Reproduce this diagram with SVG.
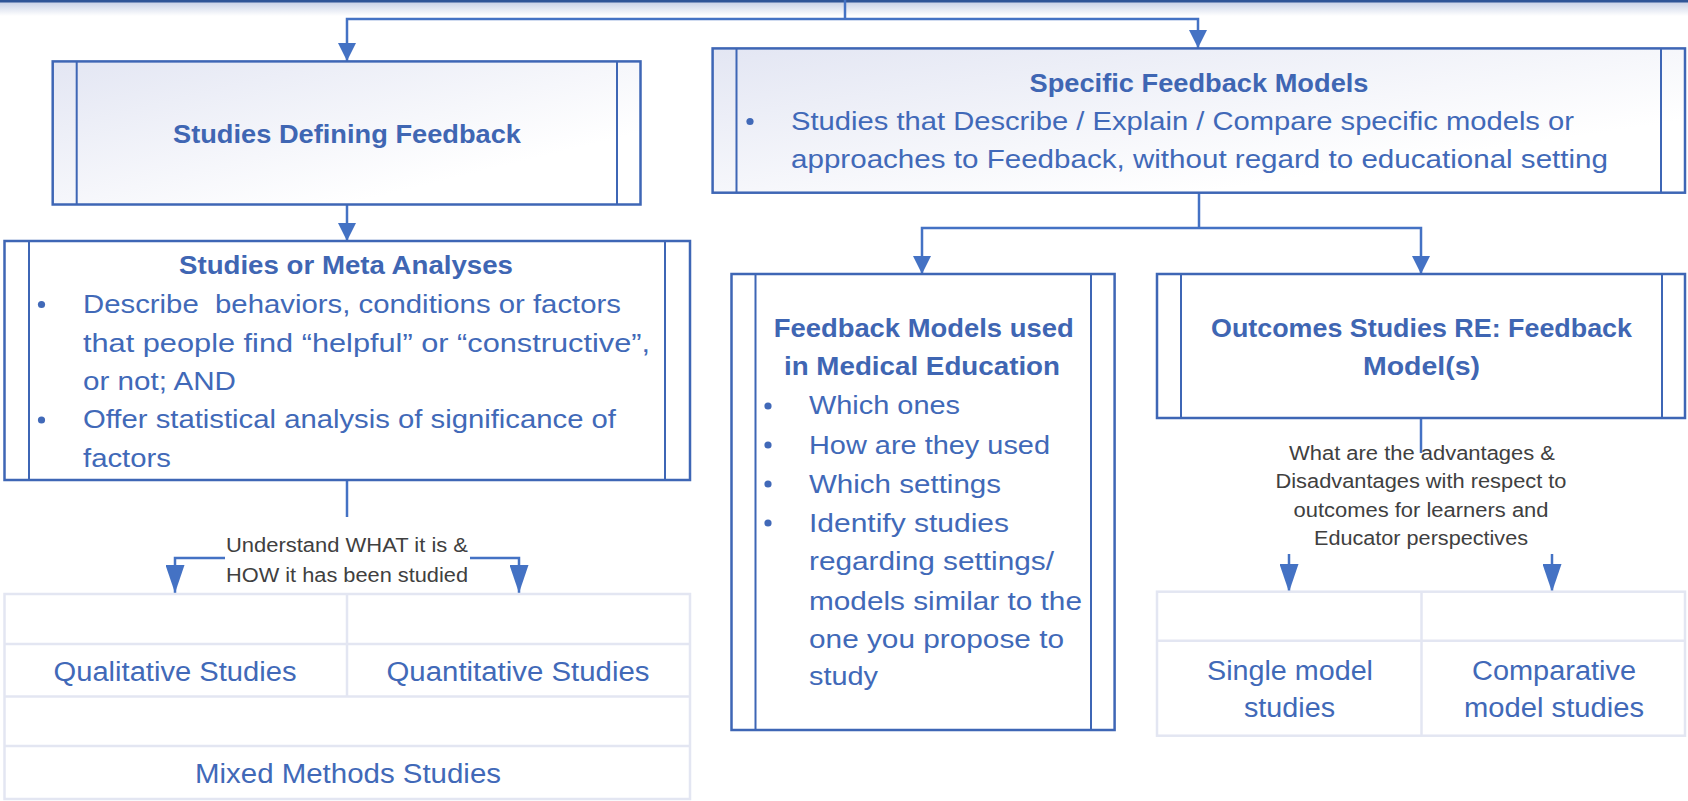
<svg xmlns="http://www.w3.org/2000/svg" width="1688" height="801" viewBox="0 0 1688 801">
<style>
.box{stroke:#3E66B5;stroke-width:2.5;}
.inner{stroke:#3E66B5;stroke-width:2;fill:none;}
.conn{stroke:#4472C4;stroke-width:2.5;fill:none;}
.t{font-family:"Liberation Sans",Arial,sans-serif;font-size:25.5px;fill:#4169B8;}
.b{font-family:"Liberation Sans",Arial,sans-serif;font-size:26px;font-weight:bold;fill:#3F66B3;text-anchor:middle;}
.lbl{font-family:"Liberation Sans",Arial,sans-serif;font-size:20px;fill:#404040;text-anchor:middle;}
.cell{font-family:"Liberation Sans",Arial,sans-serif;font-size:27px;fill:#4169B8;text-anchor:middle;}
.grid{stroke:#E3E6F2;stroke-width:2.5;fill:#FFFFFF;}
.gline{stroke:#E3E6F2;stroke-width:2.5;}
.dot{fill:#4169B8;}
.pre{white-space:pre;}
</style>
<defs>
<linearGradient id="boxGrad" x1="0" y1="0" x2="1" y2="1">
<stop offset="0" stop-color="#E3E6F3"/>
<stop offset="0.75" stop-color="#FFFFFF"/>
</linearGradient>
<linearGradient id="shadow" x1="0" y1="0" x2="0" y2="1">
<stop offset="0" stop-color="#C8D1E6"/>
<stop offset="1" stop-color="#FFFFFF"/>
</linearGradient>
<marker id="arr" markerUnits="userSpaceOnUse" markerWidth="18" markerHeight="18" refX="18" refY="9" orient="auto">
<path d="M0,0 L18,9 L0,18 Z" fill="#4472C4"/>
</marker>
<marker id="arrL" markerUnits="userSpaceOnUse" markerWidth="28" markerHeight="19" refX="28" refY="9.5" orient="auto">
<path d="M0,0 L28,9.5 L0,19 Z" fill="#4472C4"/>
</marker>
</defs>
<rect x="0" y="0" width="1688" height="801" fill="#FFFFFF"/>
<g id="topbar">
<rect x="0" y="2" width="1688" height="14" fill="url(#shadow)"/>
<rect x="0" y="0" width="1688" height="2.5" fill="#2F5597"/>
</g>
<g id="connectors">
<path class="conn" d="M845,0 V19"/>
<path class="conn" d="M845,19 H347 V61" marker-end="url(#arr)"/>
<path class="conn" d="M845,19 H1198 V48" marker-end="url(#arr)"/>
<path class="conn" d="M347,205 V241" marker-end="url(#arr)"/>
<path class="conn" d="M347,481 V517"/>
<path class="conn" d="M225,558 H175 V593" marker-end="url(#arrL)"/>
<path class="conn" d="M470,558 H519 V593" marker-end="url(#arrL)"/>
<path class="conn" d="M1199,193 V228"/>
<path class="conn" d="M1199,228 H922 V274" marker-end="url(#arr)"/>
<path class="conn" d="M1199,228 H1421 V274" marker-end="url(#arr)"/>
<path class="conn" d="M1421,418 V453"/>
<path class="conn" d="M1289,554 V592" marker-end="url(#arrL)"/>
<path class="conn" d="M1552,554 V592" marker-end="url(#arrL)"/>
</g>
<g id="studies-defining">
<rect class="box" x="52.7" y="61.4" width="587.8" height="143.1" fill="url(#boxGrad)"/>
<path class="inner" d="M76.7,61.4 V204.5 M617,61.4 V204.5"/>
<text class="b" x="347" y="143" textLength="348" lengthAdjust="spacingAndGlyphs">Studies Defining Feedback</text>
</g>
<g id="specific-models">
<rect class="box" x="712.6" y="48.4" width="972.4" height="144.3" fill="url(#boxGrad)"/>
<path class="inner" d="M736.5,48.4 V192.7 M1661,48.4 V192.7"/>
<text class="b" x="1199" y="92" textLength="339" lengthAdjust="spacingAndGlyphs">Specific Feedback Models</text>
<circle class="dot" cx="750" cy="121.5" r="3.6"/>
<text class="t" x="791" y="130" textLength="783" lengthAdjust="spacingAndGlyphs">Studies that Describe / Explain / Compare specific models or</text>
<text class="t" x="791" y="168" textLength="817" lengthAdjust="spacingAndGlyphs">approaches to Feedback, without regard to educational setting</text>
</g>
<g id="meta-analyses">
<rect class="box" x="4.5" y="241" width="685.5" height="239" fill="#FFFFFF"/>
<path class="inner" d="M29,241 V480 M665,241 V480"/>
<text class="b" x="346" y="274" textLength="334" lengthAdjust="spacingAndGlyphs">Studies or Meta Analyses</text>
<circle class="dot" cx="41.5" cy="304.5" r="3.6"/>
<circle class="dot" cx="41.5" cy="420" r="3.6"/>
<text class="t pre" x="83" y="313" textLength="538" lengthAdjust="spacingAndGlyphs">Describe  behaviors, conditions or factors</text>
<text class="t" x="83" y="352" textLength="567" lengthAdjust="spacingAndGlyphs">that people find “helpful” or “constructive”,</text>
<text class="t" x="83" y="390" textLength="153" lengthAdjust="spacingAndGlyphs">or not; AND</text>
<text class="t" x="83" y="428" textLength="533" lengthAdjust="spacingAndGlyphs">Offer statistical analysis of significance of</text>
<text class="t" x="83" y="467" textLength="88" lengthAdjust="spacingAndGlyphs">factors</text>
</g>
<g id="label-what-how">
<text class="lbl" x="347" y="552" textLength="242" lengthAdjust="spacingAndGlyphs">Understand WHAT it is &amp;</text>
<text class="lbl" x="347" y="582" textLength="242" lengthAdjust="spacingAndGlyphs">HOW it has been studied</text>
</g>
<g id="methods-table">
<rect class="grid" x="4.5" y="594" width="685.5" height="205"/>
<path class="gline" d="M4.5,644 H690 M4.5,696.5 H690 M4.5,746 H690 M347,594 V696.5"/>
<text class="cell" x="175" y="681" textLength="243" lengthAdjust="spacingAndGlyphs">Qualitative Studies</text>
<text class="cell" x="518" y="681" textLength="263" lengthAdjust="spacingAndGlyphs">Quantitative Studies</text>
<text class="cell" x="348" y="783" textLength="306" lengthAdjust="spacingAndGlyphs">Mixed Methods Studies</text>
</g>
<g id="med-ed-models">
<rect class="box" x="731.5" y="274" width="383.1" height="456" fill="#FFFFFF"/>
<path class="inner" d="M755.5,274 V730 M1091,274 V730"/>
<text class="b" x="923.7" y="337" textLength="300" lengthAdjust="spacingAndGlyphs">Feedback Models used</text>
<text class="b" x="922" y="375" textLength="276" lengthAdjust="spacingAndGlyphs">in Medical Education</text>
<circle class="dot" cx="768" cy="406" r="3.6"/>
<circle class="dot" cx="768" cy="445" r="3.6"/>
<circle class="dot" cx="768" cy="484" r="3.6"/>
<circle class="dot" cx="768" cy="523" r="3.6"/>
<text class="t" x="809" y="414" textLength="151" lengthAdjust="spacingAndGlyphs">Which ones</text>
<text class="t" x="809" y="454" textLength="241" lengthAdjust="spacingAndGlyphs">How are they used</text>
<text class="t" x="809" y="493" textLength="192" lengthAdjust="spacingAndGlyphs">Which settings</text>
<text class="t" x="809" y="532" textLength="200" lengthAdjust="spacingAndGlyphs">Identify studies</text>
<text class="t" x="809" y="570" textLength="245" lengthAdjust="spacingAndGlyphs">regarding settings/</text>
<text class="t" x="809" y="610" textLength="273" lengthAdjust="spacingAndGlyphs">models similar to the</text>
<text class="t" x="809" y="648" textLength="255" lengthAdjust="spacingAndGlyphs">one you propose to</text>
<text class="t" x="809" y="685" textLength="69" lengthAdjust="spacingAndGlyphs">study</text>
</g>
<g id="outcomes-studies">
<rect class="box" x="1157" y="274" width="528" height="144" fill="#FFFFFF"/>
<path class="inner" d="M1181,274 V418 M1662,274 V418"/>
<text class="b" x="1421.5" y="337" textLength="421" lengthAdjust="spacingAndGlyphs">Outcomes Studies RE: Feedback</text>
<text class="b" x="1421.5" y="375" textLength="117" lengthAdjust="spacingAndGlyphs">Model(s)</text>
</g>
<g id="label-advantages">
<text class="lbl" x="1422" y="460" textLength="266" lengthAdjust="spacingAndGlyphs">What are the advantages &amp;</text>
<text class="lbl" x="1421" y="488" textLength="291" lengthAdjust="spacingAndGlyphs">Disadvantages with respect to</text>
<text class="lbl" x="1421" y="517" textLength="255" lengthAdjust="spacingAndGlyphs">outcomes for learners and</text>
<text class="lbl" x="1421" y="545" textLength="214" lengthAdjust="spacingAndGlyphs">Educator perspectives</text>
</g>
<g id="model-table">
<rect class="grid" x="1157" y="591.7" width="528" height="144"/>
<path class="gline" d="M1157,640.7 H1685 M1421.5,591.7 V735.7"/>
<text class="cell" x="1290" y="680" textLength="166" lengthAdjust="spacingAndGlyphs">Single model</text>
<text class="cell" x="1289.5" y="717" textLength="91" lengthAdjust="spacingAndGlyphs">studies</text>
<text class="cell" x="1554" y="680" textLength="164" lengthAdjust="spacingAndGlyphs">Comparative</text>
<text class="cell" x="1554" y="717" textLength="180" lengthAdjust="spacingAndGlyphs">model studies</text>
</g>
</svg>
